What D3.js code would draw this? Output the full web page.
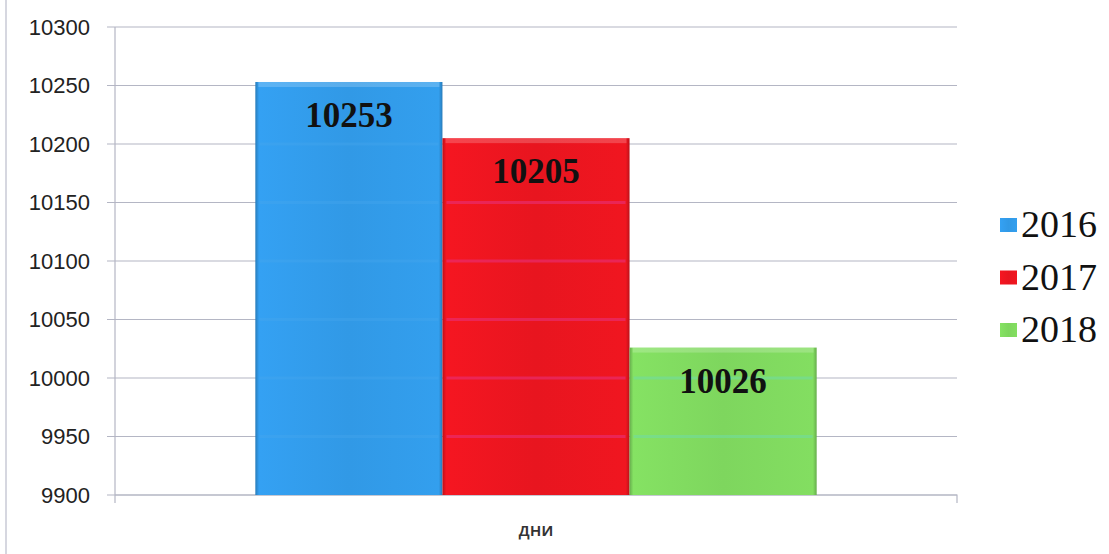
<!DOCTYPE html>
<html><head><meta charset="utf-8">
<script src="https://cdn.jsdelivr.net/npm/d3@7"></script>
<style>body{margin:0;background:#fff}svg{display:block}</style>
</head><body>
<svg id="c" width="1109" height="554"></svg>
<script>
const categories = ["дни"];
const series = ["2016", "2017", "2018"];
const values = [10253, 10205, 10026];
const yTicks = [9900, 9950, 10000, 10050, 10100, 10150, 10200, 10250, 10300];
const colors = ["#3199e6", "#e8151f", "#7ed65e"];
const stripeColors = ["#48a8ee", "#e8307a", "#72dca0"];

const svg = d3.select("#c");
const m = {left:115, right:957, top:27, bottom:495};

// frame line at left
svg.append("line").attr("x1",6).attr("x2",6).attr("y1",0).attr("y2",554)
  .attr("stroke","#c8cad6").attr("stroke-width",1.5);

const y = d3.scaleLinear().domain([9900,10300]).range([m.bottom,m.top]);
const x0 = d3.scaleBand().domain(categories).range([m.left,m.right]).paddingInner(0).paddingOuter(0.25);
const x1 = d3.scaleBand().domain(series).range([0,x0.bandwidth()]).padding(0);

// gridlines
svg.append("g").selectAll("line").data(yTicks).join("line")
  .attr("x1",m.left-8).attr("x2",m.right)
  .attr("y1",d=>y(d)).attr("y2",d=>y(d))
  .attr("stroke","#b4b6c4").attr("stroke-width",1.2);

// y axis
const ya = svg.append("g").attr("transform",`translate(${m.left},0)`)
  .call(d3.axisLeft(y).tickValues(yTicks).tickSize(0).tickPadding(25).tickFormat(d3.format("d")));
ya.select(".domain").attr("stroke","#b4b6c4").attr("stroke-width",1.2)
  .attr("d",`M0,${m.top}V${m.bottom+8}`);
ya.selectAll("text").attr("font-family","Liberation Sans, Arial, sans-serif")
  .attr("font-size",22).attr("fill","#222");

// x axis
const xa = svg.append("g").attr("transform",`translate(0,${m.bottom})`)
  .call(d3.axisBottom(x0).tickSize(0).tickPadding(28));
xa.select(".domain").attr("stroke","#b4b6c4").attr("stroke-width",1.2)
  .attr("d",`M${m.left},0H${m.right}v8`);
xa.selectAll("text").attr("font-family","Open Sans, Liberation Sans, sans-serif")
  .attr("font-size",18).attr("font-weight",600).attr("fill","#333");

// gradients for bevel look
const defs = svg.append("defs");
series.forEach((s,i)=>{
  const g = defs.append("linearGradient").attr("id","g"+i).attr("x1","0").attr("x2","1").attr("y1","0").attr("y2","0");
  const c = d3.color(colors[i]);
  g.append("stop").attr("offset","0%").attr("stop-color",c.darker(0.6));
  g.append("stop").attr("offset","2%").attr("stop-color",c.brighter(0.15));
  g.append("stop").attr("offset","50%").attr("stop-color",c);
  g.append("stop").attr("offset","98%").attr("stop-color",c.brighter(0.1));
  g.append("stop").attr("offset","100%").attr("stop-color",c.darker(0.6));
});

const data = series.map((s,i)=>({s, v:values[i], i}));
const cx = x0(categories[0]);
const bars = svg.append("g");
bars.selectAll("rect.bar").data(data).join("rect").attr("class","bar")
  .attr("x",d=>cx+x1(d.s)).attr("width",x1.bandwidth())
  .attr("y",d=>y(d.v)).attr("height",d=>m.bottom-y(d.v))
  .attr("fill",d=>`url(#g${d.i})`);
// top bevel highlight
bars.selectAll("rect.top").data(data).join("rect").attr("class","top")
  .attr("x",d=>cx+x1(d.s)+3).attr("width",x1.bandwidth()-6)
  .attr("y",d=>y(d.v)).attr("height",5)
  .attr("fill","#fff").attr("opacity",0.2);
// faint gridlines showing through bars
bars.selectAll("g.gl").data(data).join("g").attr("class","gl")
  .each(function(d){
    d3.select(this).selectAll("line").data(yTicks.filter(t=>t<d.v-8 && t>9900)).join("line")
      .attr("x1",cx+x1(d.s)+4).attr("x2",cx+x1(d.s)+x1.bandwidth()-4)
      .attr("y1",t=>y(t)).attr("y2",t=>y(t))
      .attr("stroke", stripeColors[d.i])
      .attr("stroke-width",3).attr("opacity",d.i===0?0.35:0.6);
  });

// labels
svg.append("g").selectAll("text").data(data).join("text")
  .attr("x",d=>cx+x1(d.s)+x1.bandwidth()/2).attr("y",d=>y(d.v)+45)
  .attr("text-anchor","middle")
  .attr("font-family","Liberation Serif, Times New Roman, serif")
  .attr("font-weight","bold").attr("font-size",35).attr("fill","#111")
  .text(d=>d.v);

// legend
const lg = svg.append("g");
data.forEach((d,k)=>{
  const gy = 225 + k*52.5;
  lg.append("rect").attr("x",1000).attr("y",gy-7).attr("width",17).attr("height",14)
    .attr("fill",`url(#g${d.i})`);
  lg.append("text").attr("x",1021).attr("y",gy+12)
    .attr("font-family","Liberation Serif, Times New Roman, serif")
    .attr("font-size",38).attr("fill","#111").text(d.s);
});
</script>
</body></html>
